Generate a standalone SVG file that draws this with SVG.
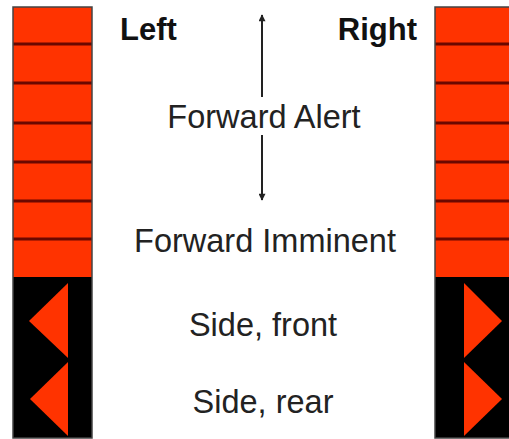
<svg xmlns="http://www.w3.org/2000/svg" width="509" height="439" viewBox="0 0 509 439">
<style>
.red{fill:#ff3300}
.blk{fill:#000}
.sep{stroke:#6a0800;stroke-width:3}
.frame{fill:none;stroke:#444;stroke-width:1.5}
.tri{fill:#ff3300}
.lbl{font-family:"Liberation Sans",Arial,sans-serif;font-size:32.5px;fill:#222}
.hd{font-family:"Liberation Sans",Arial,sans-serif;font-size:31px;font-weight:bold;fill:#111}
.arr{stroke:#222;stroke-width:2;fill:none}
</style>
<defs>
<marker id="ah" viewBox="0 0 10 10" refX="9" refY="5" markerWidth="12" markerHeight="7" markerUnits="userSpaceOnUse" orient="auto">
<path d="M0,0 L10,5 L0,10 Z" fill="#222"/>
</marker>
</defs>
<g id="left-bar">
<rect class="red" x="13" y="7" width="79" height="270"/>
<rect class="blk" x="13" y="277" width="79" height="161"/>
<line class="sep" x1="13" y1="44" x2="92" y2="44"/>
<line class="sep" x1="13" y1="83" x2="92" y2="83"/>
<line class="sep" x1="13" y1="123" x2="92" y2="123"/>
<line class="sep" x1="13" y1="162" x2="92" y2="162"/>
<line class="sep" x1="13" y1="201" x2="92" y2="201"/>
<line class="sep" x1="13" y1="239" x2="92" y2="239"/>
<rect class="frame" x="13" y="7" width="79" height="431"/>
<polygon class="tri" points="68,283 68,358 29,321"/>
<polygon class="tri" points="68,362 68,436 30,399"/>
</g>
<g id="right-bar">
<rect class="red" x="435" y="7" width="80" height="270"/>
<rect class="blk" x="435" y="277" width="80" height="161"/>
<line class="sep" x1="435" y1="44" x2="515" y2="44"/>
<line class="sep" x1="435" y1="83" x2="515" y2="83"/>
<line class="sep" x1="435" y1="123" x2="515" y2="123"/>
<line class="sep" x1="435" y1="162" x2="515" y2="162"/>
<line class="sep" x1="435" y1="201" x2="515" y2="201"/>
<line class="sep" x1="435" y1="239" x2="515" y2="239"/>
<rect class="frame" x="435" y="7" width="80" height="431"/>
<polygon class="tri" points="464,283 464,358 502,321"/>
<polygon class="tri" points="464,362 464,436 502,399"/>
</g>
<g id="connectors">
<line class="arr" x1="262" y1="97" x2="262" y2="15" marker-end="url(#ah)"/>
<line class="arr" x1="262" y1="135" x2="262" y2="200" marker-end="url(#ah)"/>
</g>
<g id="labels">
<text class="hd" x="120" y="40">Left</text>
<text class="hd" x="417" y="40" text-anchor="end">Right</text>
<text class="lbl" x="264" y="128" text-anchor="middle">Forward Alert</text>
<text class="lbl" x="265" y="252" text-anchor="middle">Forward Imminent</text>
<text class="lbl" x="263" y="336" text-anchor="middle">Side, front</text>
<text class="lbl" x="263" y="413" text-anchor="middle">Side, rear</text>
</g>
</svg>
